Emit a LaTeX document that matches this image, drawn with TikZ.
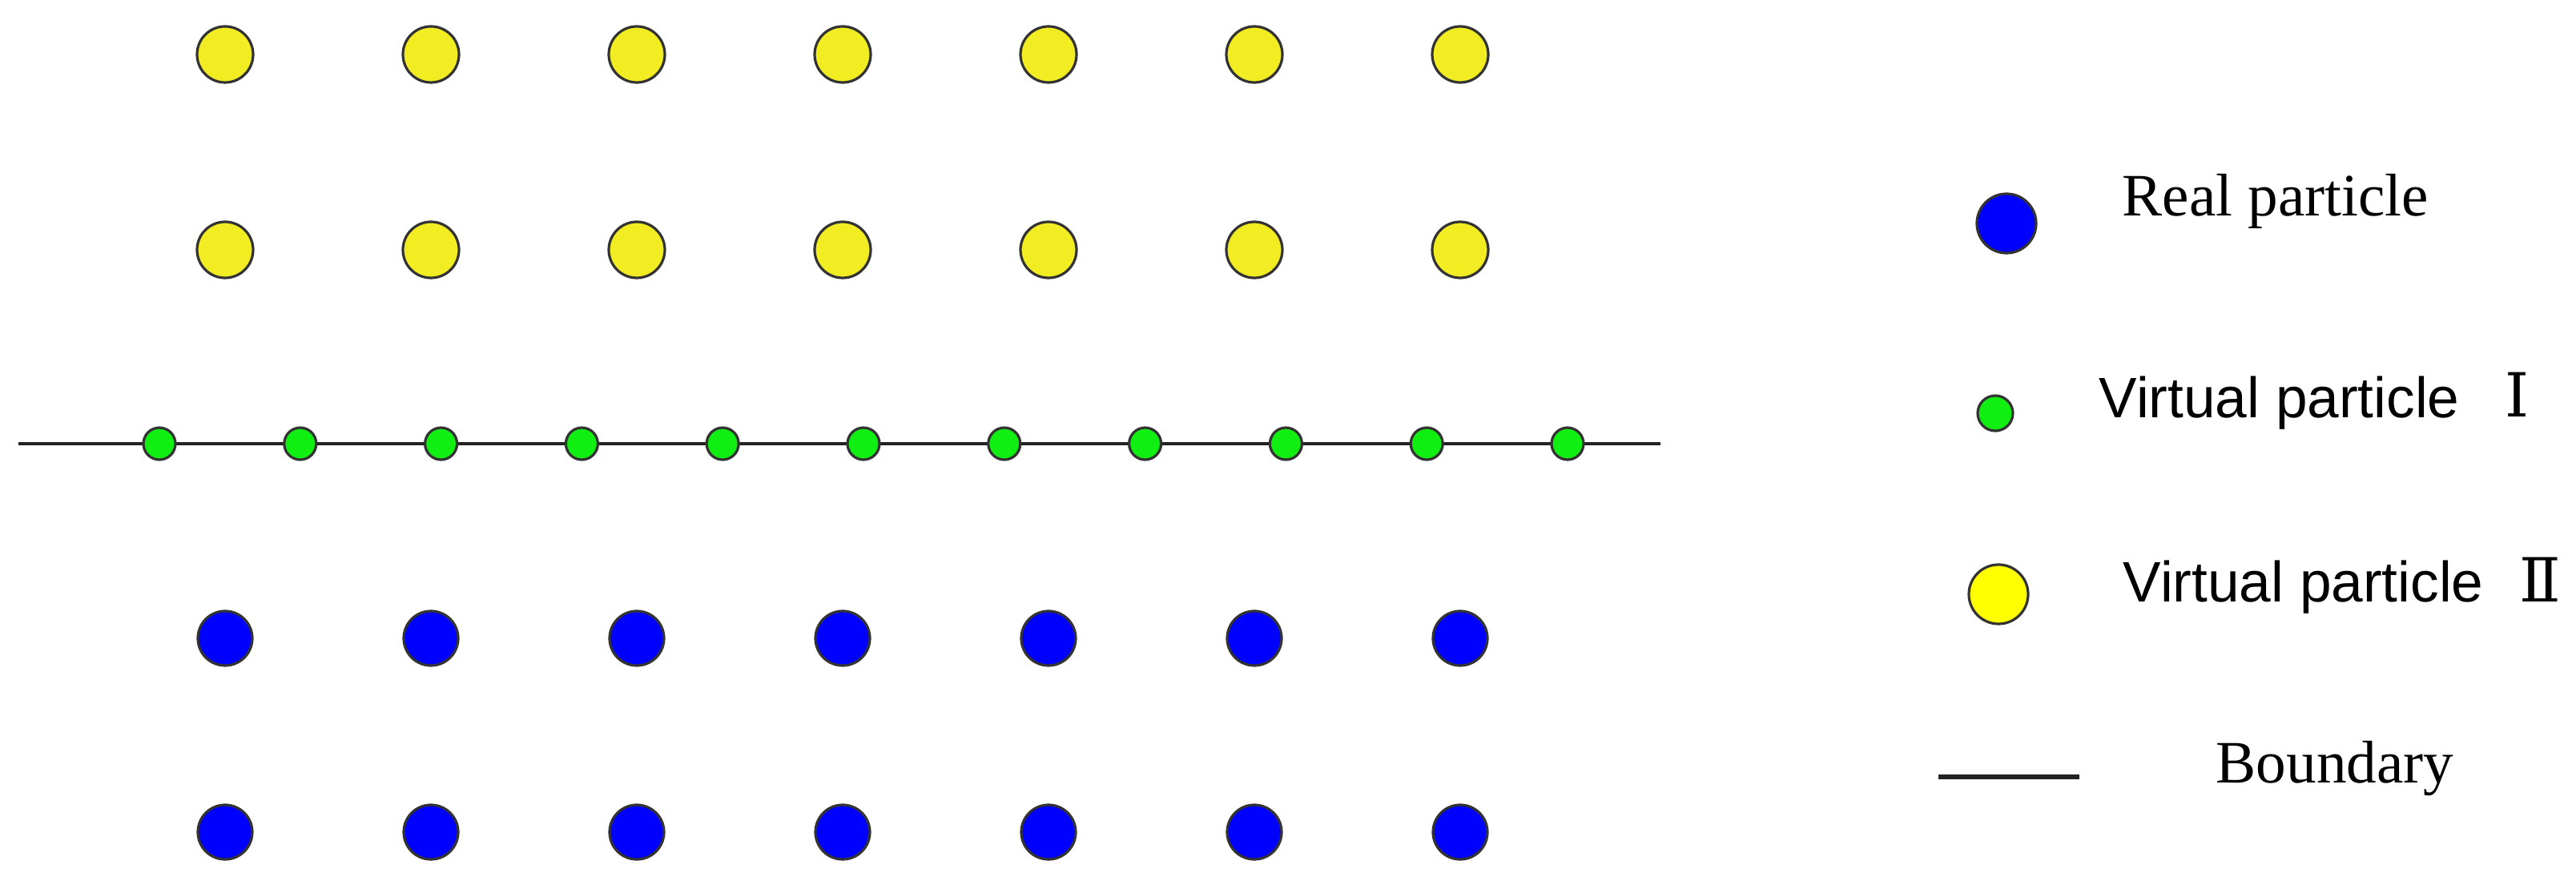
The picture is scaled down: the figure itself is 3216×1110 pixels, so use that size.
\documentclass[tikz,border=0pt]{standalone}
\usepackage{fontspec}
\setmainfont{Liberation Serif}
\newfontfamily\sansf{Liberation Sans}
\newfontfamily\numf{DejaVu Serif}
\definecolor{ylw}{HTML}{F2EC22}
\definecolor{ylwL}{HTML}{FFFF00}
\definecolor{blu}{HTML}{0000FF}
\definecolor{grn}{HTML}{11EE11}
\definecolor{edge}{HTML}{333333}
\definecolor{ink}{HTML}{222222}
\tikzset{
  part/.style={circle,draw=edge,line width=0.8pt,inner sep=0pt,outer sep=0pt},
  yball/.style={part,fill=ylw,minimum size=17.5pt},
  bball/.style={part,fill=blu,minimum size=17pt},
  gball/.style={part,fill=grn,minimum size=10pt},
  bline/.style={draw=ink,line width=1pt},
  serl/.style={anchor=base west,inner sep=0pt,font=\fontsize{18.8}{22}\selectfont},
  sanl/.style={anchor=base west,inner sep=0pt,font=\sansf\fontsize{17.8}{22}\selectfont},
  numl/.style={anchor=base,inner sep=0pt,font=\numf\fontsize{19}{22}\selectfont},
}
\begin{document}
\begin{tikzpicture}[x=0.25pt,y=-0.25pt]
\useasboundingbox[fill=white] (0,0) rectangle (3216,1110);
% boundary line
\coordinate (bL) at (23,554);
\coordinate (bR) at (2073,554);
\draw[bline] (bL) -- (bR);
% yellow and blue grid
\foreach \i in {0,...,6}{
  \node[yball] (ya\i) at ({281+257*\i},68) {};
  \node[yball] (yb\i) at ({281+257*\i},312) {};
  \node[bball] (ba\i) at ({281+257*\i},797) {};
  \node[bball] (bb\i) at ({281+257*\i},1039) {};
}
% green on boundary
\foreach \j in {0,...,10}{
  \node[gball] (g\j) at ({199+175.8*\j},554) {};
}
% legend
\node[bball,minimum size=18.5pt] (lb) at (2505,279) {};
\node[serl] (tb) at (2649,270) {Real particle};
\node[gball,minimum size=11pt] (lg) at (2491,516) {};
\node[sanl] (tg) at (2620,522) {Virtual particle};
\node[numl] (ng) at (3142,521) {Ⅰ};
\node[yball,fill=ylwL,minimum size=18.5pt] (ly) at (2495,742) {};
\node[sanl] (ty) at (2650,752) {Virtual particle};
\node[numl] (ny) at (3171,752) {Ⅱ};
\coordinate (lL) at (2420,970);
\coordinate (lR) at (2596,970);
\draw[bline,line width=1.4pt] (lL) -- (lR);
\node[serl] (tl) at (2766,978) {Boundary};
\end{tikzpicture}
\end{document}
